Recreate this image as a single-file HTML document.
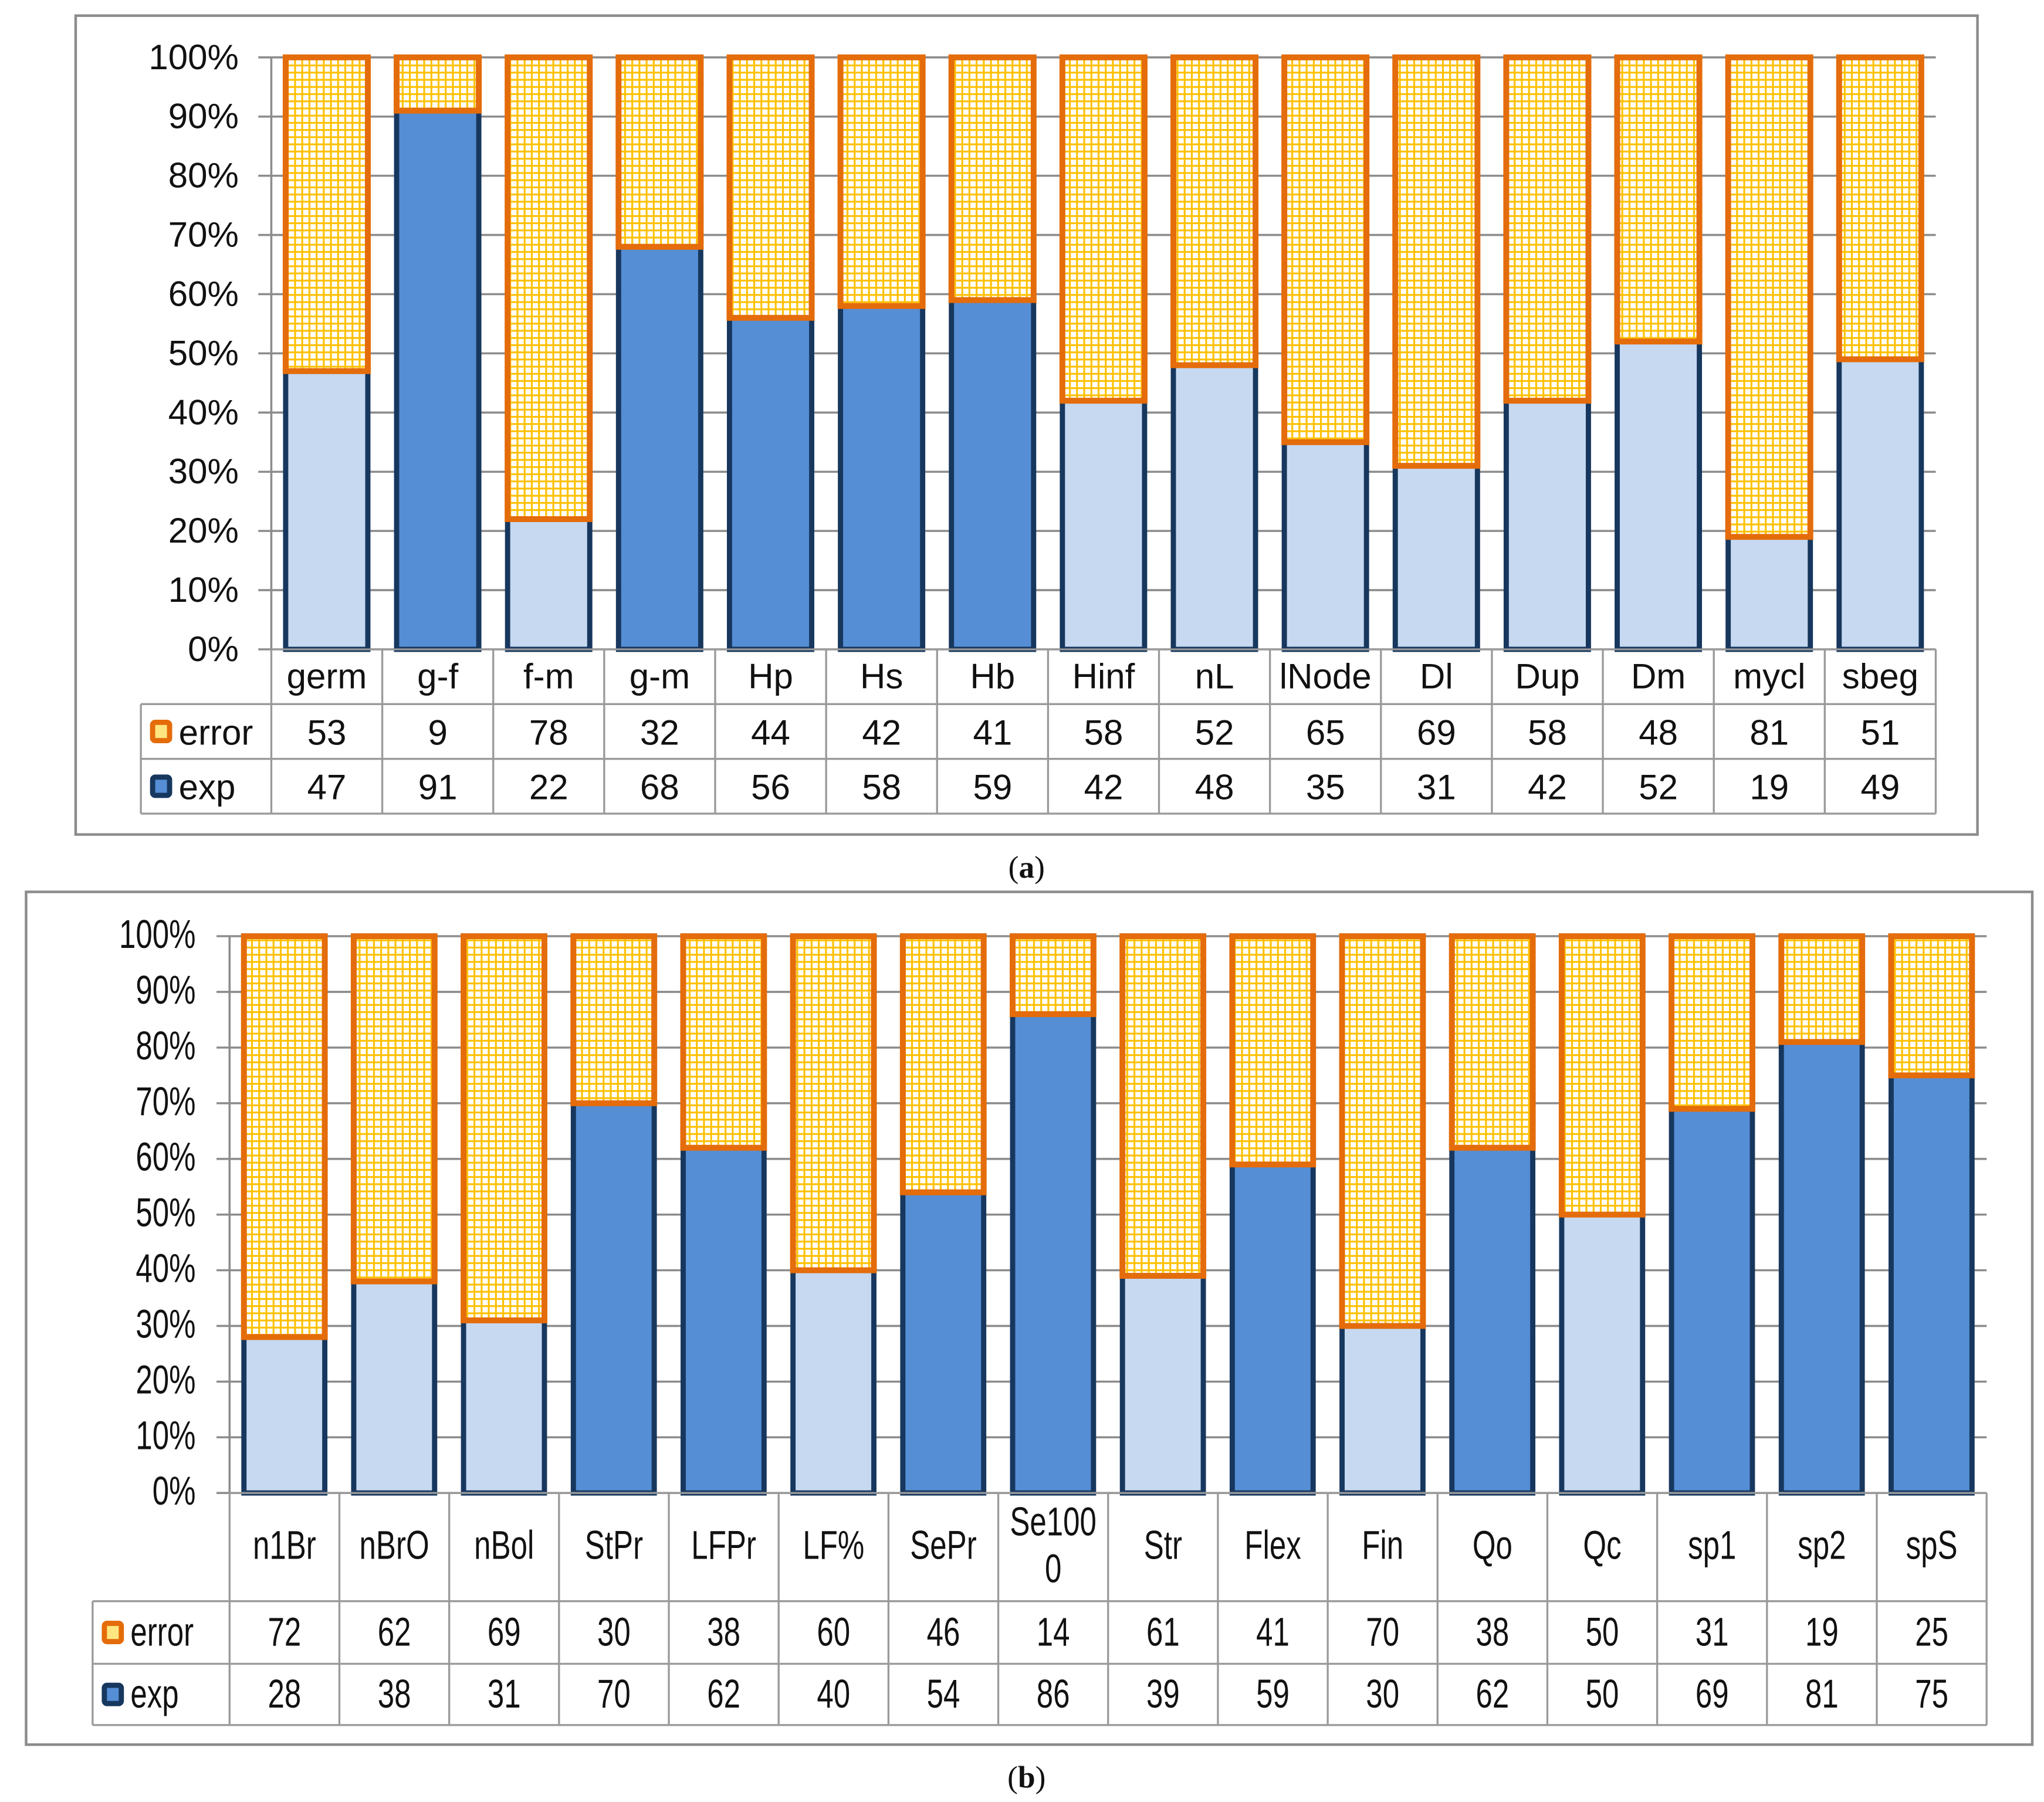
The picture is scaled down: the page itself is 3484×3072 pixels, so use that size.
<!DOCTYPE html>
<html><head><meta charset="utf-8">
<style>
html,body{margin:0;padding:0;background:#fff;}
svg{display:block;}
text{font-family:"Liberation Sans",sans-serif;fill:#111;}
</style></head>
<body>
<svg id="chart" width="3484" height="3072" viewBox="0 0 1567 1382" preserveAspectRatio="none" xmlns="http://www.w3.org/2000/svg">
<defs>
<pattern id="grid" width="5.5" height="5.5" patternUnits="userSpaceOnUse">
<rect width="5.5" height="5.5" fill="#ffffff"/>
<rect width="5.5" height="1.4" fill="#ffc000"/>
<rect width="1.4" height="5.5" fill="#ffc000"/>
</pattern>
</defs>
<rect x="58" y="12" width="1458" height="628" fill="none" stroke="#8c8c8c" stroke-width="2"/>
<rect x="20" y="684" width="1538" height="654" fill="none" stroke="#8c8c8c" stroke-width="2"/>
<text x="787" y="673" text-anchor="middle" style="font-family:'Liberation Serif',serif;font-size:24px">(<tspan font-weight="bold">a</tspan>)</text>
<text x="787" y="1371" text-anchor="middle" style="font-family:'Liberation Serif',serif;font-size:24px">(<tspan font-weight="bold">b</tspan>)</text>
<g id="ga"></g>
<g id="gb"></g>
</svg>
<script>
const catsA = ["germ","g-f","f-m","g-m","Hp","Hs","Hb","Hinf","nL","lNode","Dl","Dup","Dm","mycl","sbeg"];
const errA = [53,9,78,32,44,42,41,58,52,65,69,58,48,81,51];
const expA = [47,91,22,68,56,58,59,42,48,35,31,42,52,19,49];
const darkA = [0,1,0,1,1,1,1,0,0,0,0,0,0,0,0];
const catsB = ["n1Br","nBrO","nBol","StPr","LFPr","LF%","SePr","Se100\n0","Str","Flex","Fin","Qo","Qc","sp1","sp2","spS"];
const errB = [72,62,69,30,38,60,46,14,61,41,70,38,50,31,19,25];
const expB = [28,38,31,70,62,40,54,86,39,59,30,62,50,69,81,75];
const darkB = [0,0,0,1,1,0,1,1,0,1,0,1,0,1,1,1];
const yTicks = [0,10,20,30,40,50,60,70,80,90,100];

const NS = "http://www.w3.org/2000/svg";
function mk(parent, tag, attrs, txt){
  const e = document.createElementNS(NS, tag);
  for (const k in attrs) e.setAttribute(k, attrs[k]);
  if (txt !== undefined) e.textContent = txt;
  parent.appendChild(e);
  return e;
}

function drawPanel(g, cfg, cats, err, exp, dark, id){
  const n = cats.length;
  const cw = (cfg.x1 - cfg.x0) / n;
  const y = v => cfg.yb - (cfg.yb - cfg.yt) * v / 100;
  const x = i => cfg.x0 + i * cw;
  const tf = cfg.narrow ? ' scale(0.82,1.1)' : '';
  yTicks.forEach(t => {
    const l = mk(g, 'line', {x1: cfg.x0 - 10, x2: cfg.x1, y1: y(t), y2: y(t), stroke: '#8c8c8c', 'stroke-width': 1.6});
    
    
    const tx = mk(g, 'text', {transform: 'translate(' + cfg.ylx + ',' + (y(t) + 9) + ')' + tf, 'text-anchor': 'end', 'font-size': cfg.fs}, t + '%');
    
    
  });
  const ax = mk(g, 'line', {x1: cfg.x0, x2: cfg.x0, y1: cfg.yt, y2: cfg.yb, stroke: '#8c8c8c', 'stroke-width': 1.6});
  
  
  for (let i = 0; i < n; i++) {
    const bx = x(i) + cfg.off, bw = cfg.bw;
    const r1 = mk(g, 'rect', {x: bx, y: y(exp[i]), width: bw, height: y(0) - y(exp[i]), fill: dark[i] ? '#558ed5' : '#c6d9f1', stroke: '#17375e', 'stroke-width': 4});
    
    
    const r2 = mk(g, 'rect', {x: bx, y: y(100), width: bw, height: y(exp[i]) - y(100), fill: 'url(#grid)', stroke: '#e46c0a', 'stroke-width': 4.5});
    
    
  }
  const tl = cfg.tl, r0 = cfg.yb, r1y = cfg.r1, r2y = cfg.r2, r3y = cfg.r3;
  const tg = '#9a9a9a';
  [[cfg.x0, r0, cfg.x1, r0], [tl, r1y, cfg.x1, r1y], [tl, r2y, cfg.x1, r2y], [tl, r3y, cfg.x1, r3y], [tl, r1y, tl, r3y], [cfg.x1, r0, cfg.x1, r3y]].forEach(s => {
    const l = mk(g, 'line', {x1: s[0], y1: s[1], x2: s[2], y2: s[3], stroke: tg, 'stroke-width': 1.5});
    
    
  });
  for (let i = 0; i < n; i++) {
    const l = mk(g, 'line', {x1: x(i), y1: r0, x2: x(i), y2: r3y, stroke: tg, 'stroke-width': 1.5});
    
    
    const cx = x(i) + cw / 2;
    const parts = cats[i].split('\n');
    const my = (r0 + r1y) / 2 + 9 - (parts.length - 1) * 18;
    parts.forEach((p, k) => {
      const t = mk(g, 'text', {transform: 'translate(' + cx + ',' + (my + k * 36) + ')' + tf, 'text-anchor': 'middle', 'font-size': cfg.fs}, p);
      
      
    });
    const te = mk(g, 'text', {transform: 'translate(' + cx + ',' + ((r1y + r2y) / 2 + 10) + ')' + tf, 'text-anchor': 'middle', 'font-size': cfg.fs}, String(err[i]));
    
    
    const tx = mk(g, 'text', {transform: 'translate(' + cx + ',' + ((r2y + r3y) / 2 + 10) + ')' + tf, 'text-anchor': 'middle', 'font-size': cfg.fs}, String(exp[i]));
    
    
  }
  const ly1 = (r1y + r2y) / 2, ly2 = (r2y + r3y) / 2;
  const k1 = mk(g, 'rect', {x: tl + 9, y: ly1 - 7, width: 13, height: 14, rx: 2, fill: '#ffe680', stroke: '#e46c0a', 'stroke-width': 4});
  
  
  const k2 = mk(g, 'rect', {x: tl + 9, y: ly2 - 7, width: 13, height: 14, rx: 2, fill: '#558ed5', stroke: '#17375e', 'stroke-width': 4});
  
  
  const t1 = mk(g, 'text', {transform: 'translate(' + (tl + 29) + ',' + (ly1 + 10) + ')' + tf, 'font-size': cfg.fs}, 'error');
  
  
  const t2 = mk(g, 'text', {transform: 'translate(' + (tl + 29) + ',' + (ly2 + 10) + ')' + tf, 'font-size': cfg.fs}, 'exp');
  
  
}

drawPanel(document.getElementById('ga'),
  {x0: 208, x1: 1484, yt: 44, yb: 498, off: 11, bw: 63, ylx: 183, fs: 27, tl: 108, r1: 540, r2: 582, r3: 624, narrow: false},
  catsA, errA, expA, darkA, 'panel-a');
drawPanel(document.getElementById('gb'),
  {x0: 176, x1: 1523, yt: 718, yb: 1145, off: 11, bw: 62, ylx: 150, fs: 28, tl: 71, r1: 1228, r2: 1276, r3: 1323, narrow: true},
  catsB, errB, expB, darkB, 'panel-b');
</script>
</body></html>
